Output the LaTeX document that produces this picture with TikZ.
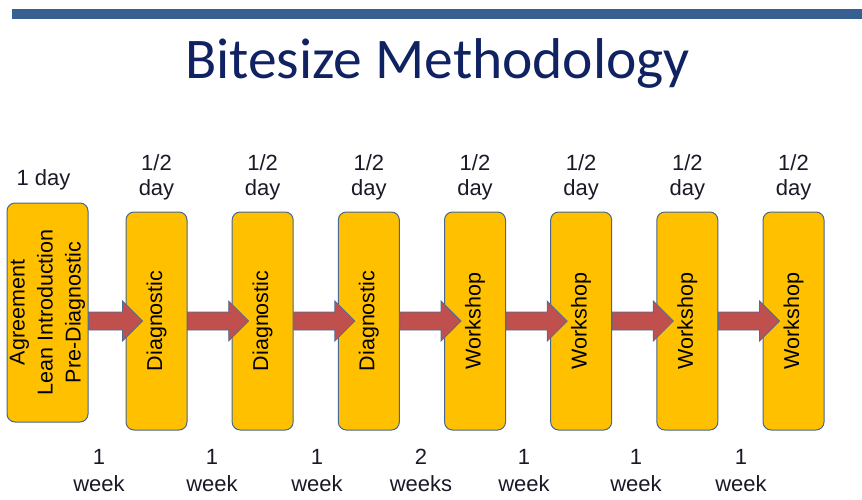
\documentclass[tikz,border=0pt]{standalone}
\usepackage{fontspec}
\setmainfont{Liberation Sans}
\newfontfamily\titlefont{Carlito}
\usetikzlibrary{calc}

\definecolor{barblue}{RGB}{55,96,146}
\definecolor{titlenavy}{RGB}{16,34,98}
\definecolor{boxfill}{RGB}{255,192,0}
\definecolor{boxedge}{RGB}{72,102,142}
\definecolor{arrowred}{RGB}{192,80,77}
\definecolor{arrowedge}{RGB}{80,108,150}
\definecolor{labelink}{RGB}{25,25,40}

\tikzset{
  stagebox/.style={draw=boxedge, line width=1pt, fill=boxfill, rounded corners=8pt,
    inner sep=0pt, minimum width=61pt, minimum height=218pt},
  firstbox/.style={stagebox, minimum width=81pt, minimum height=219pt},
  stagetext/.style={rotate=90, inner sep=0pt, text=black, align=center,
    font=\fontsize{21.5pt}{28pt}\selectfont},
  durlabel/.style={inner sep=0pt, text=labelink, align=center,
    font=\fontsize{22pt}{25pt}\selectfont},
  gaplabel/.style={durlabel, font=\fontsize{22pt}{27pt}\selectfont},
  flowarrow/.style={fill=arrowred, draw=arrowedge, line width=0.8pt, line join=miter}
}

% fat block arrow from the right edge of box #1 into the left edge of box #2
\newcommand{\blockarrow}[2]{%
  \draw[flowarrow] let \p1=(#1.east |- #2.west), \p2=(#2.west) in
    (\x1,\y1+9pt) -- (\x2-3pt,\y2+9pt) -- (\x2-3pt,\y2+20pt) -- (\x2+17pt,\y2)
    -- (\x2-3pt,\y2-20pt) -- (\x2-3pt,\y2-9pt) -- (\x1,\y1-9pt) -- cycle;}

\begin{document}
\begin{tikzpicture}[x=1pt, y=-1pt]
  \useasboundingbox (0,0) rectangle (862,499);

  % header rule and title
  \fill[barblue] (12,9) rectangle (862,19);
  \node[anchor=base, inner sep=0pt, text=titlenavy,
        font=\titlefont\fontsize{57.5pt}{60pt}\selectfont] (title) at (437.5,78) {Bitesize Methodology};

  % stages
  \node[firstbox] (b1) at (47.5,312.5) {};
  \node[stagetext] (t1) at (b1.center)
    {Agreement\\Lean Introduction\\Pre-Diagnostic};

  \foreach \i/\lbl in {2/Diagnostic,3/Diagnostic,4/Diagnostic,5/Workshop,
                       6/Workshop,7/Workshop,8/Workshop}{
    \node[stagebox] (b\i) at ({156.5+106.17*(\i-2)},321) {};
    \node[stagetext] (t\i) at (b\i.center) {\lbl};
    \node[durlabel, anchor=south] (d\i) at ({156.5+106.17*(\i-2)},200) {1/2\\day};
  }
  \node[durlabel, anchor=base] (d1) at (43.5,185) {1 day};

  % arrows between stages
  \blockarrow{b1}{b2}
  \blockarrow{b2}{b3}
  \blockarrow{b3}{b4}
  \blockarrow{b4}{b5}
  \blockarrow{b5}{b6}
  \blockarrow{b6}{b7}
  \blockarrow{b7}{b8}

  % intervals between stages
  \foreach \k/\x/\txt in {1/99/{1\\week},2/212/{1\\week},3/317/{1\\week},
                          4/421/{2\\weeks},5/524/{1\\week},6/636/{1\\week},7/741/{1\\week}}{
    \node[gaplabel, anchor=south] (w\k) at (\x,492) {\txt};
  }
\end{tikzpicture}
\end{document}
